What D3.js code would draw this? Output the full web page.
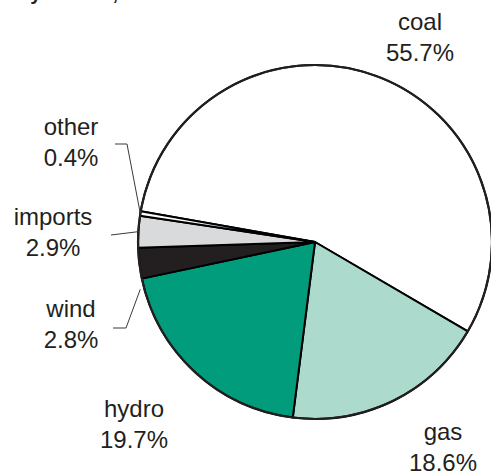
<!DOCTYPE html>
<html>
<head>
<meta charset="utf-8">
<script src="https://cdn.jsdelivr.net/npm/d3@7"></script>
<style>
  html, body { margin: 0; padding: 0; background: #fff; }
  svg { display: block; }
</style>
</head>
<body>
<svg id="chart" width="491" height="476"></svg>
<script>
// Electricity generation shares by fuel
const fuels   = ["coal", "gas", "hydro", "wind", "imports", "other"];
const shares  = [55.7, 18.6, 19.7, 2.8, 2.9, 0.4];
const colours = ["#ffffff", "#acdacd", "#009c7b", "#231f20", "#d9dadc", "#ffffff"];

const svg = d3.select("#chart");
const cx = 315, cy = 242, R = 177;
const font = "'Liberation Sans', Arial, sans-serif";

// Title (its last line sits at the top edge)
svg.append("text")
  .attr("x", 18).attr("y", 0)
  .attr("font-family", font).attr("font-size", 20).attr("font-weight", "bold")
  .attr("fill", "#231f20")
  .text("by source, 2006");

const data = fuels.map((f, i) => ({ fuel: f, value: shares[i], colour: colours[i] }));

const start = -80 * Math.PI / 180;
const pie = d3.pie().sort(null).value(d => d.value)
  .startAngle(start).endAngle(start + 2 * Math.PI);
const arcs = pie(data);
const arc = d3.arc().innerRadius(0).outerRadius(R);

const g = svg.append("g").attr("transform", `translate(${cx},${cy})`);
g.selectAll("path.slice").data(arcs).join("path")
  .attr("class", "slice")
  .attr("d", arc)
  .attr("fill", d => d.data.colour)
  .attr("stroke", "#000")
  .attr("stroke-width", 2)
  .attr("stroke-linejoin", "round");

// Outer rim
g.append("circle").attr("r", R)
  .attr("fill", "none").attr("stroke", "#231f20").attr("stroke-width", 2.2);

// Point on rim at the middle of a slice
function rimPoint(a) {
  const m = (a.startAngle + a.endAngle) / 2;
  return [cx + Math.sin(m) * R, cy - Math.cos(m) * R];
}

// Label placement (centre x, baseline of first line)
const labelPos = {
  coal:    [420, 30],
  gas:     [443, 440],
  hydro:   [134, 417],
  wind:    [71, 317],
  imports: [53, 225],
  other:   [71, 135]
};
const lineGap = 31;

const labels = svg.append("g").attr("font-family", font).attr("font-size", 24)
  .attr("fill", "#231f20").attr("text-anchor", "middle");
arcs.forEach(a => {
  const [x, y] = labelPos[a.data.fuel];
  const t = labels.append("text").attr("x", x).attr("y", y);
  t.append("tspan").attr("x", x).attr("y", y).text(a.data.fuel);
  t.append("tspan").attr("x", x).attr("y", y + lineGap).text(d3.format(".1f")(a.data.value) + "%");
});

// Leader lines for the thin slices
const byName = Object.fromEntries(arcs.map(a => [a.data.fuel, a]));
const leaders = svg.append("g").attr("fill", "none").attr("stroke", "#3a3a3a").attr("stroke-width", 1);
const line = d3.line();
{
  const p = rimPoint(byName.other);
  leaders.append("path").attr("d", line([[115, 144], [127, 144], p]));
}
{
  const p = rimPoint(byName.imports);
  leaders.append("path").attr("d", line([[111, 235], p]));
}
{
  const p = rimPoint(byName.wind);
  const q = [p[0] + 1, p[1] + 26];
  leaders.append("path").attr("d", line([[113, 328], [126, 328], q]));
}
</script>
</body>
</html>
